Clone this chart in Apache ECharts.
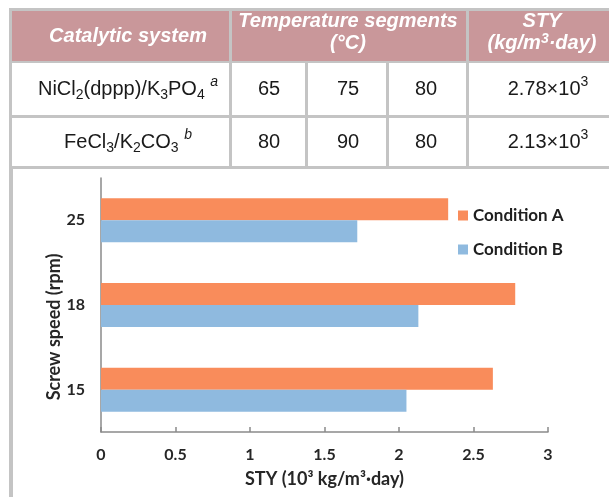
<!DOCTYPE html>
<html><head><meta charset="utf-8">
<script src="https://cdn.jsdelivr.net/npm/echarts@6/dist/echarts.min.js"></script>
<style>html,body{margin:0;padding:0;background:#fff}#c{width:609px;height:497px}</style>
</head><body><div id="c"></div>
<script>
// ---- chart data ----
const speeds = ['15', '18', '25'];
const conditionA = [2.63, 2.78, 2.33];
const conditionB = [2.05, 2.13, 1.72];
const seriesNames = ['Condition A', 'Condition B'];
const xAxisTitle = 'STY (10³ kg/m³·day)';
const yAxisTitle = 'Screw speed (rpm)';

// ---- table data ----
const headerCatalyst = 'Catalytic system';
const headerTemp = '{h|Temperature segments}\n{h|(°C)}';
const headerSty = '{h|STY}\n{h|(kg/m}{hp|3}{h|·day)}';
const catalystLabels = [
  '{n|NiCl}{s|2}{n|(dppp)/K}{s|3}{n|PO}{s|4}{n| }{p|a}',
  '{n|FeCl}{s|3}{n|/K}{s|2}{n|CO}{s|3}{n| }{p|b}'
];
const tempSeg1 = [65, 80];
const tempSeg2 = [75, 90];
const tempSeg3 = [80, 80];
const styMantissa = ['2.78', '2.13'];
const styExponent = ['3', '3'];

// ---- layout (pixels) ----
const colEdges = [[12, 229], [232, 305], [308, 386], [389, 466], [469, 640]];
const headerBand = [11, 61];
const rowBands = [[63, 115], [118, 166]];
const TF = 'Liberation Sans, Arial, sans-serif';
const CF = 'Lato, sans-serif';
const ink = '#1a1a1a';

const richCell = {
  n: {fontFamily: TF, fontSize: 20, lineHeight: 27, verticalAlign: 'middle', fill: ink},
  s: {fontFamily: TF, fontSize: 14, lineHeight: 14, verticalAlign: 'bottom', fill: ink},
  p: {fontFamily: TF, fontSize: 14, fontStyle: 'italic', lineHeight: 13, verticalAlign: 'top', fill: ink},
  p2: {fontFamily: TF, fontSize: 14, lineHeight: 13, verticalAlign: 'top', fill: ink}
};
const richHead = {
  h: {fontFamily: TF, fontSize: 20, fontWeight: 'bold', fontStyle: 'italic', lineHeight: 22, verticalAlign: 'middle', fill: '#fff'},
  hp: {fontFamily: TF, fontSize: 14, fontWeight: 'bold', fontStyle: 'italic', lineHeight: 12, verticalAlign: 'top', fill: '#fff'}
};

const G = [];
// gray frame background (table borders + panel left border)
G.push({type: 'rect', z: -20, silent: true, shape: {x: 9, y: 8, width: 640, height: 489}, style: {fill: '#c4c4c4'}});
// white chart panel
G.push({type: 'rect', z: -19, silent: true, shape: {x: 13, y: 169, width: 640, height: 340}, style: {fill: '#ffffff'}});
// header cells
const headerSpans = [[12, 229], [232, 466], [469, 640]];
const headerColor = '#c9979a';
headerSpans.forEach(function (sp) {
  G.push({type: 'rect', z: -18, silent: true, shape: {x: sp[0], y: headerBand[0], width: sp[1] - sp[0], height: headerBand[1] - headerBand[0]}, style: {fill: headerColor}});
});
// body cells
rowBands.forEach(function (rb) {
  colEdges.forEach(function (ce) {
    G.push({type: 'rect', z: -18, silent: true, shape: {x: ce[0], y: rb[0], width: ce[1] - ce[0], height: rb[1] - rb[0]}, style: {fill: '#ffffff'}});
  });
});
// header texts
G.push({type: 'text', z: 10, silent: true, x: 128, y: 36, style: {text: headerCatalyst, fontFamily: TF, fontSize: 20, fontWeight: 'bold', fontStyle: 'italic', fill: '#fff', align: 'center', verticalAlign: 'middle'}});
G.push({type: 'text', z: 10, silent: true, x: 348, y: 32, style: {text: headerTemp, rich: richHead, align: 'center', verticalAlign: 'middle'}});
G.push({type: 'text', z: 10, silent: true, x: 542, y: 32, style: {text: headerSty, rich: richHead, align: 'center', verticalAlign: 'middle'}});
// body texts
const colCentersX = [128, 269, 348, 426, 548];
for (let r = 0; r < catalystLabels.length; r++) {
  const cy = (rowBands[r][0] + rowBands[r][1]) / 2;
  const cells = [
    catalystLabels[r],
    '{n|' + tempSeg1[r] + '}',
    '{n|' + tempSeg2[r] + '}',
    '{n|' + tempSeg3[r] + '}',
    '{n|' + styMantissa[r] + '×10}{p2|' + styExponent[r] + '}'
  ];
  cells.forEach(function (txt, i) {
    G.push({type: 'text', z: 10, silent: true, x: colCentersX[i], y: cy, style: {
      text: txt, align: 'center', verticalAlign: 'middle', rich: richCell
    }});
  });
}
// y-axis title (rotated)
G.push({type: 'text', z: 10, silent: true, x: 54, y: 327, rotation: Math.PI / 2, style: {text: yAxisTitle, fontFamily: CF, fontWeight: 'bold', fontSize: 18, fill: '#262626', align: 'center', verticalAlign: 'middle'}});

const axisGray = '#8a8a8a';
const labelStyle = {fontFamily: CF, fontWeight: 'bold', fontSize: 16, color: '#262626'};

const chart = echarts.init(document.getElementById('c'), null, {renderer: 'canvas'});
chart.setOption({
  animation: false,
  backgroundColor: '#ffffff',
  grid: {left: 101, right: 61, top: 178, bottom: 65, containLabel: false},
  legend: {
    orient: 'vertical', left: 453, top: 202, itemWidth: 10, itemHeight: 10, itemGap: 17, icon: 'rect',
    textStyle: {fontFamily: CF, fontWeight: 'bold', fontSize: 17, color: '#1f1f1f'},
    data: seriesNames
  },
  xAxis: {
    type: 'value', min: 0, max: 3, interval: 0.5,
    name: xAxisTitle, nameLocation: 'middle', nameGap: 38,
    nameTextStyle: {fontFamily: CF, fontWeight: 'bold', fontSize: 18, color: '#262626'},
    axisLine: {show: true, lineStyle: {color: axisGray, width: 1.5}},
    axisTick: {show: true, inside: true, length: 5, lineStyle: {color: axisGray, width: 1.5}},
    splitLine: {show: false},
    axisLabel: Object.assign({margin: 15}, labelStyle)
  },
  yAxis: {
    type: 'category', data: speeds,
    axisLine: {show: true, lineStyle: {color: axisGray, width: 1.5}},
    axisTick: {show: false},
    splitLine: {show: false},
    axisLabel: Object.assign({margin: 16}, labelStyle)
  },
  series: [
    {type: 'bar', name: seriesNames[0], data: conditionA, barWidth: 22, barGap: '0%', itemStyle: {color: '#f98c5b'}},
    {type: 'bar', name: seriesNames[1], data: conditionB, barWidth: 22, barGap: '0%', itemStyle: {color: '#8fbadf'}}
  ],
  graphic: G
});
</script>
</body></html>
